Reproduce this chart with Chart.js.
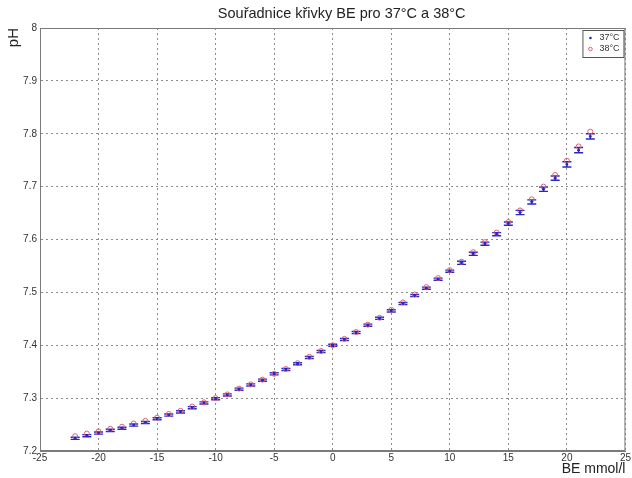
<!DOCTYPE html>
<html>
<head>
<meta charset="utf-8">
<script src="https://cdn.jsdelivr.net/npm/chart.js@4"></script>
<style>
  html, body { margin: 0; padding: 0; background: #ffffff; }
  #wrap { width: 632px; height: 478px; }
</style>
</head>
<body>
<div id="wrap"><canvas id="c" width="632" height="478"></canvas></div>
<script>
// Base excess (mmol/l) and the matching pH for 37 °C and 38 °C
const beValues = [-22,-21,-20,-19,-18,-17,-16,-15,-14,-13,-12,-11,-10,-9,-8,-7,-6,-5,-4,-3,-2,-1,
                  0,1,2,3,4,5,6,7,8,9,10,11,12,13,14,15,16,17,18,19,20,21,22];
const ph37 = [7.224,7.229,7.234,7.239,7.243,7.249,7.254,7.261,7.268,7.274,7.282,7.291,7.299,7.306,7.317,7.325,7.334,7.346,7.354,7.365,7.377,7.388,
              7.400,7.411,7.424,7.438,7.451,7.465,7.479,7.494,7.508,7.525,7.540,7.556,7.573,7.592,7.610,7.630,7.651,7.671,7.695,7.716,7.742,7.769,7.795];
const ph38 = [7.228,7.233,7.237,7.242,7.246,7.252,7.257,7.263,7.270,7.276,7.284,7.292,7.300,7.307,7.318,7.326,7.335,7.346,7.355,7.366,7.378,7.389,
              7.400,7.412,7.425,7.439,7.452,7.467,7.481,7.496,7.510,7.527,7.542,7.558,7.576,7.595,7.613,7.633,7.655,7.676,7.700,7.722,7.749,7.776,7.804];
// half-width of the 37 °C error bars (pH units)
const err37 = [0.002,0.002,0.002,0.002,0.002,0.002,0.002,0.002,0.002,0.002,0.002,0.002,0.002,0.002,0.002,0.002,0.002,0.002,0.002,0.002,0.002,0.002,
               0.002,0.002,0.002,0.002,0.002,0.002,0.002,0.002,0.002,0.002,0.002,0.003,0.003,0.003,0.003,0.003,0.004,0.004,0.004,0.004,0.005,0.005,0.005];
const seriesNames = ['37°C', '38°C'];
const chartTitle = 'Souřadnice křivky BE pro 37°C a 38°C';
const xRange = [-25, 25];
const yRange = [7.2, 8];

const BLUE = '#2727c8';
const RED = '#e0606e';
const FONT = "'Liberation Sans', Arial, sans-serif";

// vertical error bars with caps for the 37 °C series
const errorBars = {
  id: 'errorBars',
  beforeDatasetsDraw(chart) {
    const meta = chart.getDatasetMeta(0);
    const ys = chart.scales.y;
    const ctx = chart.ctx;
    ctx.save();
    ctx.strokeStyle = BLUE;
    ctx.lineWidth = 1.4;
    meta.data.forEach((pt, i) => {
      const x = pt.x;
      const yTop = ys.getPixelForValue(ph37[i] + err37[i]);
      const yBot = ys.getPixelForValue(ph37[i] - err37[i]);
      ctx.beginPath();
      ctx.moveTo(x, yTop); ctx.lineTo(x, yBot);
      ctx.moveTo(x - 4.5, yTop); ctx.lineTo(x + 4.5, yTop);
      ctx.moveTo(x - 4.5, yBot); ctx.lineTo(x + 4.5, yBot);
      ctx.stroke();
    });
    ctx.restore();
  }
};

// solid frame round the plot, the heading above it and the small legend box in its top-right corner
const frameAndLegend = {
  id: 'frameAndLegend',
  afterDraw(chart) {
    const {ctx, chartArea: a} = chart;
    ctx.save();
    ctx.strokeStyle = '#7a7a7a';
    ctx.lineWidth = 1;
    ctx.strokeRect(a.left + 0.5, a.top + 0.5, a.right - a.left - 1, a.bottom - a.top - 1);

    // heading, sitting slightly right of the plot centre
    ctx.font = '14.5px ' + FONT;
    ctx.fillStyle = '#222222';
    ctx.textAlign = 'center';
    ctx.textBaseline = 'middle';
    ctx.fillText(chartTitle, (a.left + a.right) / 2 + 9, a.top - 14);

    const bx = a.right - 43, by = a.top + 2, bw = 41, bh = 27;
    ctx.fillStyle = '#ffffff';
    ctx.fillRect(bx, by, bw, bh);
    ctx.strokeStyle = '#555555';
    ctx.strokeRect(bx + 0.5, by + 0.5, bw, bh);

    ctx.font = '9px ' + FONT;
    ctx.textBaseline = 'middle';
    ctx.textAlign = 'left';
    const rows = [by + 8, by + 19];
    // 37 °C marker: small dot
    ctx.fillStyle = BLUE;
    ctx.beginPath(); ctx.arc(bx + 8, rows[0], 1.3, 0, Math.PI * 2); ctx.fill();
    // 38 °C marker: small circle
    ctx.strokeStyle = RED;
    ctx.beginPath(); ctx.arc(bx + 8, rows[1], 1.8, 0, Math.PI * 2); ctx.stroke();
    ctx.fillStyle = '#333333';
    ctx.fillText(seriesNames[0], bx + 17, rows[0]);
    ctx.fillText(seriesNames[1], bx + 17, rows[1]);
    ctx.restore();
  }
};

const toPoints = (ys) => beValues.map((x, i) => ({x: x, y: ys[i]}));

new Chart(document.getElementById('c'), {
  type: 'scatter',
  data: {
    datasets: [
      {
        label: seriesNames[0],
        data: toPoints(ph37),
        pointStyle: 'circle',
        pointRadius: 1.4,
        pointBackgroundColor: BLUE,
        pointBorderColor: BLUE,
        pointBorderWidth: 0
      },
      {
        label: seriesNames[1],
        data: toPoints(ph38),
        pointStyle: 'circle',
        pointRadius: 2.5,
        pointBackgroundColor: 'rgba(0,0,0,0)',
        pointBorderColor: RED,
        pointBorderWidth: 1
      }
    ]
  },
  options: {
    responsive: false,
    animation: false,
    devicePixelRatio: 1,
    layout: { padding: { left: 0, right: 0, top: 28, bottom: 0 } },
    plugins: {
      legend: { display: false },
      tooltip: { enabled: false },
      title: { display: false }
    },
    scales: {
      x: {
        type: 'linear',
        min: xRange[0],
        max: xRange[1],
        afterFit(scale) { scale.height = 27; },
        ticks: {
          stepSize: 5,
          color: '#333333',
          font: { family: FONT, size: 10 },
          padding: 1,
          maxRotation: 0
        },
        grid: { color: '#8c8c8c', lineWidth: 1, drawTicks: false },
        border: { display: true, color: '#7a7a7a', dash: [2, 3] },
        title: {
          display: true,
          text: 'BE mmol/l',
          align: 'end',
          color: '#222222',
          font: { family: FONT, size: 14, lineHeight: 1.2 },
          padding: { top: 0, bottom: 0 }
        }
      },
      y: {
        type: 'linear',
        min: yRange[0],
        max: yRange[1],
        afterFit(scale) { scale.width = 40; },
        ticks: {
          stepSize: 0.1,
          color: '#333333',
          font: { family: FONT, size: 10 },
          padding: 3,
          callback: (v) => String(Math.round(v * 10) / 10)
        },
        grid: { color: '#8c8c8c', lineWidth: 1, drawTicks: false },
        border: { display: true, color: '#7a7a7a', dash: [2, 3] },
        title: {
          display: true,
          text: 'pH',
          align: 'end',
          color: '#222222',
          font: { family: FONT, size: 15, lineHeight: 1.2 },
          padding: { top: 5, bottom: 0 }
        }
      }
    }
  },
  plugins: [errorBars, frameAndLegend]
});
</script>
</body>
</html>
